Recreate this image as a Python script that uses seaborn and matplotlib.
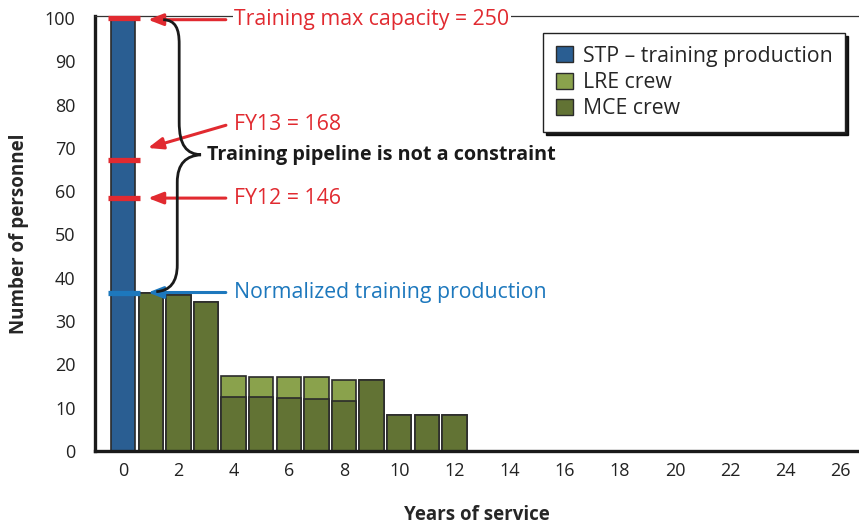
import matplotlib
matplotlib.use("Agg")
import matplotlib.pyplot as plt
import seaborn as sns
import pandas as pd
import numpy as np
from matplotlib.path import Path
from matplotlib.patches import PathPatch, Patch

# ---- data ----
stp_years = [0]
stp_values = [100]
crew_years = [1, 2, 3, 4, 5, 6, 7, 8, 9, 10, 11, 12]
mce_values = [36.6, 36.0, 34.4, 12.5, 12.5, 12.2, 12.1, 11.6, 16.5, 8.3, 8.3, 8.3]
lre_values = [0, 0, 0, 4.8, 4.7, 4.8, 4.9, 4.9, 0, 0, 0, 0]
max_capacity = 250
fy13 = 168
fy12 = 146
normalized_training = 36.6
x_ticks = list(range(0, 27, 2))
y_ticks = list(range(0, 101, 10))

# ---- style ----
sns.set_style("white")
FONT = ["Open Sans", "DejaVu Sans"]
plt.rcParams["font.family"] = FONT

C_STP = "#2a5e92"
C_LRE = "#8aa24c"
C_MCE = "#627334"
C_RED = "#e12a30"
C_BLUE = "#1d78bd"
EDGE = "#2b2b2b"

fig = plt.figure(figsize=(8.59, 5.25), dpi=100)
ax = fig.add_axes([95 / 859, 74 / 525, 764 / 859, 435 / 525])

crew = pd.DataFrame({"year": crew_years, "mce": mce_values, "lre": lre_values})
crew["total"] = crew["mce"] + crew["lre"]
stp = pd.DataFrame({"year": stp_years, "value": stp_values})

sns.barplot(data=stp, x="year", y="value", native_scale=True, color=C_STP,
            saturation=1, width=0.88, edgecolor=EDGE, linewidth=1.2, ax=ax)
sns.barplot(data=crew, x="year", y="total", native_scale=True, color=C_LRE,
            saturation=1, width=0.88, edgecolor=EDGE, linewidth=1.2, ax=ax)
sns.barplot(data=crew, x="year", y="mce", native_scale=True, color=C_MCE,
            saturation=1, width=0.88, edgecolor=EDGE, linewidth=1.2, ax=ax)

ax.set_xlim(-1.02, 26.66)
ax.set_ylim(0, 100.45)
ax.set_xticks(x_ticks)
ax.set_yticks(y_ticks)
ax.tick_params(axis="x", length=0, pad=8, labelsize=13)
ax.tick_params(axis="y", direction="in", length=8, width=1.8, pad=14, labelsize=13)
for lab in ax.get_xticklabels() + ax.get_yticklabels():
    lab.set_color("#222222")

for s in ["left", "bottom"]:
    ax.spines[s].set_linewidth(2.4)
    ax.spines[s].set_color("#1a1a1a")
ax.spines["top"].set_linewidth(0.9)
ax.spines["top"].set_color("#333333")
ax.spines["right"].set_visible(False)

ax.set_xlabel("Years of service", fontsize=13.5, fontweight="bold")
ax.set_ylabel("Number of personnel", fontsize=13.5, fontweight="bold")
ax.xaxis.set_label_coords(0.5, -0.124)
ax.yaxis.set_label_coords(-0.087, 0.5)

# ---- markers on the STP bar ----
scale = max_capacity / 100.0
for v in [max_capacity, fy13, fy12]:
    ax.plot([-0.55, 0.6], [v / scale, v / scale], color=C_RED, lw=3.8,
            solid_capstyle="butt", zorder=5, clip_on=False)
ax.plot([-0.55, 0.6], [normalized_training, normalized_training], color=C_BLUE,
        lw=3.8, solid_capstyle="butt", zorder=5)

# ---- annotations ----
arrow_kw = dict(arrowstyle="-|>,head_length=0.9,head_width=0.35", lw=2.2)
tx = 4.02
ann = [
    ("Training max capacity = %d" % max_capacity, (tx, 99.6), (0.8, 99.6), C_RED),
    ("FY13 = %d" % fy13, (tx, 75.4), (0.8, 69.8), C_RED),
    ("FY12 = %d" % fy12, (tx, 58.4), (0.8, 58.4), C_RED),
    ("Normalized training production", (tx, normalized_training), (0.8, normalized_training), C_BLUE),
]
for text, xyt, xy, col in ann:
    ax.annotate("", xy=xy, xytext=(xyt[0] - 0.2, xyt[1]),
                arrowprops=dict(color=col, **arrow_kw), zorder=6, annotation_clip=False)
    ax.text(xyt[0], xyt[1], text, color=col, fontsize=15.3, va="center", ha="left",
            zorder=7, bbox=dict(facecolor="white", edgecolor="none", pad=1.0), clip_on=False)

# curly brace
verts = [
    (1.45, 99.6),
    (1.9, 99.5), (2.03, 97.5), (2.03, 94.0),
    (2.03, 76.0),
    (2.03, 70.5), (2.3, 68.6), (2.82, 68.4),
    (2.3, 68.2), (1.96, 66.5), (1.96, 62.0),
    (1.96, 43.0),
    (1.96, 39.0), (1.7, 37.0), (1.2, 36.8),
]
codes = [Path.MOVETO,
         Path.CURVE4, Path.CURVE4, Path.CURVE4,
         Path.LINETO,
         Path.CURVE4, Path.CURVE4, Path.CURVE4,
         Path.CURVE4, Path.CURVE4, Path.CURVE4,
         Path.LINETO,
         Path.CURVE4, Path.CURVE4, Path.CURVE4]
ax.add_patch(PathPatch(Path(verts, codes), facecolor="none", edgecolor="#1a1a1a",
                       lw=2.0, zorder=6))
ax.text(3.04, 68.4, "Training pipeline is not a constraint", fontsize=14.2,
        fontweight="bold", color="#1a1a1a", va="center", ha="left", zorder=7)

# ---- legend ----
handles = [Patch(facecolor=C_STP, edgecolor=EDGE, lw=1),
           Patch(facecolor=C_LRE, edgecolor=EDGE, lw=1),
           Patch(facecolor=C_MCE, edgecolor=EDGE, lw=1)]
labels = ["STP \u2013 training production", "LRE crew", "MCE crew"]
leg = ax.legend(handles, labels, loc="upper right", bbox_to_anchor=(0.982, 0.961),
                borderaxespad=0, fontsize=15.3, frameon=True, fancybox=False,
                handlelength=0.8, handleheight=0.8, handletextpad=0.45,
                labelspacing=0.25, borderpad=0.6,
                shadow={"color": "black", "alpha": 0.9, "ox": 2, "oy": -2})
leg.get_frame().set_edgecolor("#222222")
leg.get_frame().set_linewidth(1.0)
leg.set_zorder(10)

fig.savefig("out.png", dpi=100)
